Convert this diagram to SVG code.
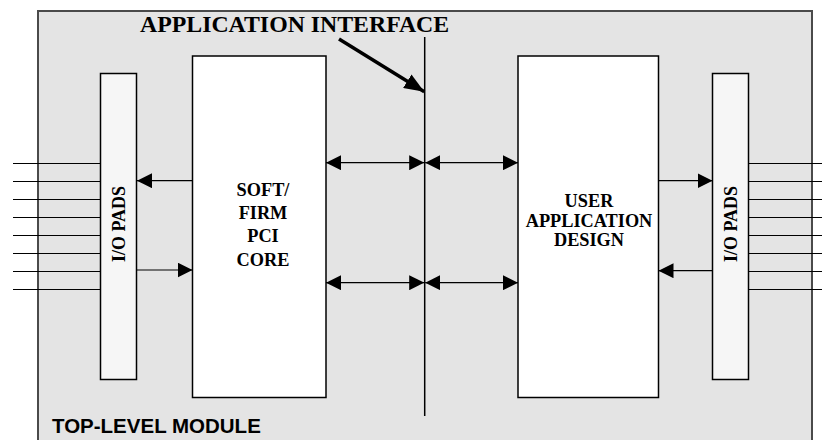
<svg xmlns="http://www.w3.org/2000/svg" width="822" height="440" viewBox="0 0 822 440">
  <style>
    .module { fill: #e4e4e4; stroke: #4a4a4a; stroke-width: 2; }
    .pad { fill: #f6f6f6; stroke: #000; stroke-width: 1.5; }
    .block { fill: #ffffff; stroke: #000; stroke-width: 1.5; }
    .wire { stroke: #000; stroke-width: 1.2; fill: none; }
    .bus { stroke: #000; stroke-width: 1.2; fill: none; marker-end: url(#head); }
    .bus2 { stroke: #000; stroke-width: 1.2; fill: none; marker-start: url(#head); marker-end: url(#head); }
    .serif { font-family: "Liberation Serif", "Times New Roman", serif; font-weight: bold; fill: #000; }
    .label { font-size: 18.3px; text-anchor: middle; }
    .sans { font-family: "Liberation Sans", Arial, sans-serif; font-weight: bold; fill: #000; }
  </style>
  <defs>
    <marker id="head" viewBox="0 0 15 15" refX="15" refY="7.5" markerWidth="15" markerHeight="15" markerUnits="userSpaceOnUse" orient="auto-start-reverse">
      <path d="M0,0 L15,7.5 L0,15 Z" fill="#000"/>
    </marker>
    <marker id="pointer" viewBox="0 0 20 16" refX="20" refY="8" markerWidth="20" markerHeight="16" markerUnits="userSpaceOnUse" orient="auto">
      <path d="M0,0 L20,8 L0,16 Z" fill="#000"/>
    </marker>
  </defs>

  <!-- enclosing top-level module -->
  <g id="top-level-module">
    <rect class="module" x="38" y="11" width="774" height="440"/>
    <text class="sans" x="52" y="433" font-size="20.5">TOP-LEVEL MODULE</text>
  </g>

  <!-- external pins -->
  <g id="pins">
    <g class="wire">
      <line x1="13" y1="163.5" x2="100.5" y2="163.5"/>
      <line x1="13" y1="181.5" x2="100.5" y2="181.5"/>
      <line x1="13" y1="199.5" x2="100.5" y2="199.5"/>
      <line x1="13" y1="217.5" x2="100.5" y2="217.5"/>
      <line x1="13" y1="235.5" x2="100.5" y2="235.5"/>
      <line x1="13" y1="253.5" x2="100.5" y2="253.5"/>
      <line x1="13" y1="271.5" x2="100.5" y2="271.5"/>
      <line x1="13" y1="289.5" x2="100.5" y2="289.5"/>
      <line x1="748.5" y1="163.5" x2="822" y2="163.5"/>
      <line x1="748.5" y1="181.5" x2="822" y2="181.5"/>
      <line x1="748.5" y1="199.5" x2="822" y2="199.5"/>
      <line x1="748.5" y1="217.5" x2="822" y2="217.5"/>
      <line x1="748.5" y1="235.5" x2="822" y2="235.5"/>
      <line x1="748.5" y1="253.5" x2="822" y2="253.5"/>
      <line x1="748.5" y1="271.5" x2="822" y2="271.5"/>
      <line x1="748.5" y1="289.5" x2="822" y2="289.5"/>
    </g>
  </g>

  <g id="io-pads-left">
    <rect class="pad" x="100.5" y="73.5" width="36" height="306"/>
    <text class="serif" font-size="18" text-anchor="middle" transform="translate(125,224) rotate(-90)">I/O PADS</text>
  </g>

  <g id="pci-core">
    <rect class="block" x="192.5" y="56" width="133.5" height="341.5"/>
    <text class="serif label" x="263" y="196">SOFT/</text>
    <text class="serif label" x="263" y="219">FIRM</text>
    <text class="serif label" x="263" y="242">PCI</text>
    <text class="serif label" x="263" y="265.5">CORE</text>
  </g>

  <g id="user-design">
    <rect class="block" x="518" y="56" width="140.5" height="341.5"/>
    <text class="serif label" x="589" y="207">USER</text>
    <text class="serif label" x="589" y="226.5">APPLICATION</text>
    <text class="serif label" x="589" y="245.5">DESIGN</text>
  </g>

  <g id="io-pads-right">
    <rect class="pad" x="712.5" y="73.5" width="36" height="306"/>
    <text class="serif" font-size="18" text-anchor="middle" transform="translate(737,224) rotate(-90)">I/O PADS</text>
  </g>

  <g id="application-interface">
    <line x1="424.7" y1="37" x2="424.7" y2="416" stroke="#000" stroke-width="1.5"/>
    <text class="serif" x="140" y="32" font-size="23.8">APPLICATION INTERFACE</text>
  </g>

  <!-- connectors -->
  <g id="connectors">
    <line class="bus" x1="192.5" y1="180.7" x2="137" y2="180.7"/>
    <line class="bus" x1="137" y1="270" x2="192.5" y2="270"/>
    <line class="bus2" x1="326" y1="162.7" x2="424.2" y2="162.7"/>
    <line class="bus2" x1="425.2" y1="162.7" x2="518" y2="162.7"/>
    <line class="bus2" x1="326" y1="282.7" x2="424.2" y2="282.7"/>
    <line class="bus2" x1="425.2" y1="282.7" x2="518" y2="282.7"/>
    <line class="bus" x1="658.5" y1="180.7" x2="712.5" y2="180.7"/>
    <line class="bus" x1="712.5" y1="270.7" x2="658.5" y2="270.7"/>
    <line x1="339" y1="39" x2="424.3" y2="91.7" stroke="#000" stroke-width="3.5" marker-end="url(#pointer)"/>
  </g>
</svg>
